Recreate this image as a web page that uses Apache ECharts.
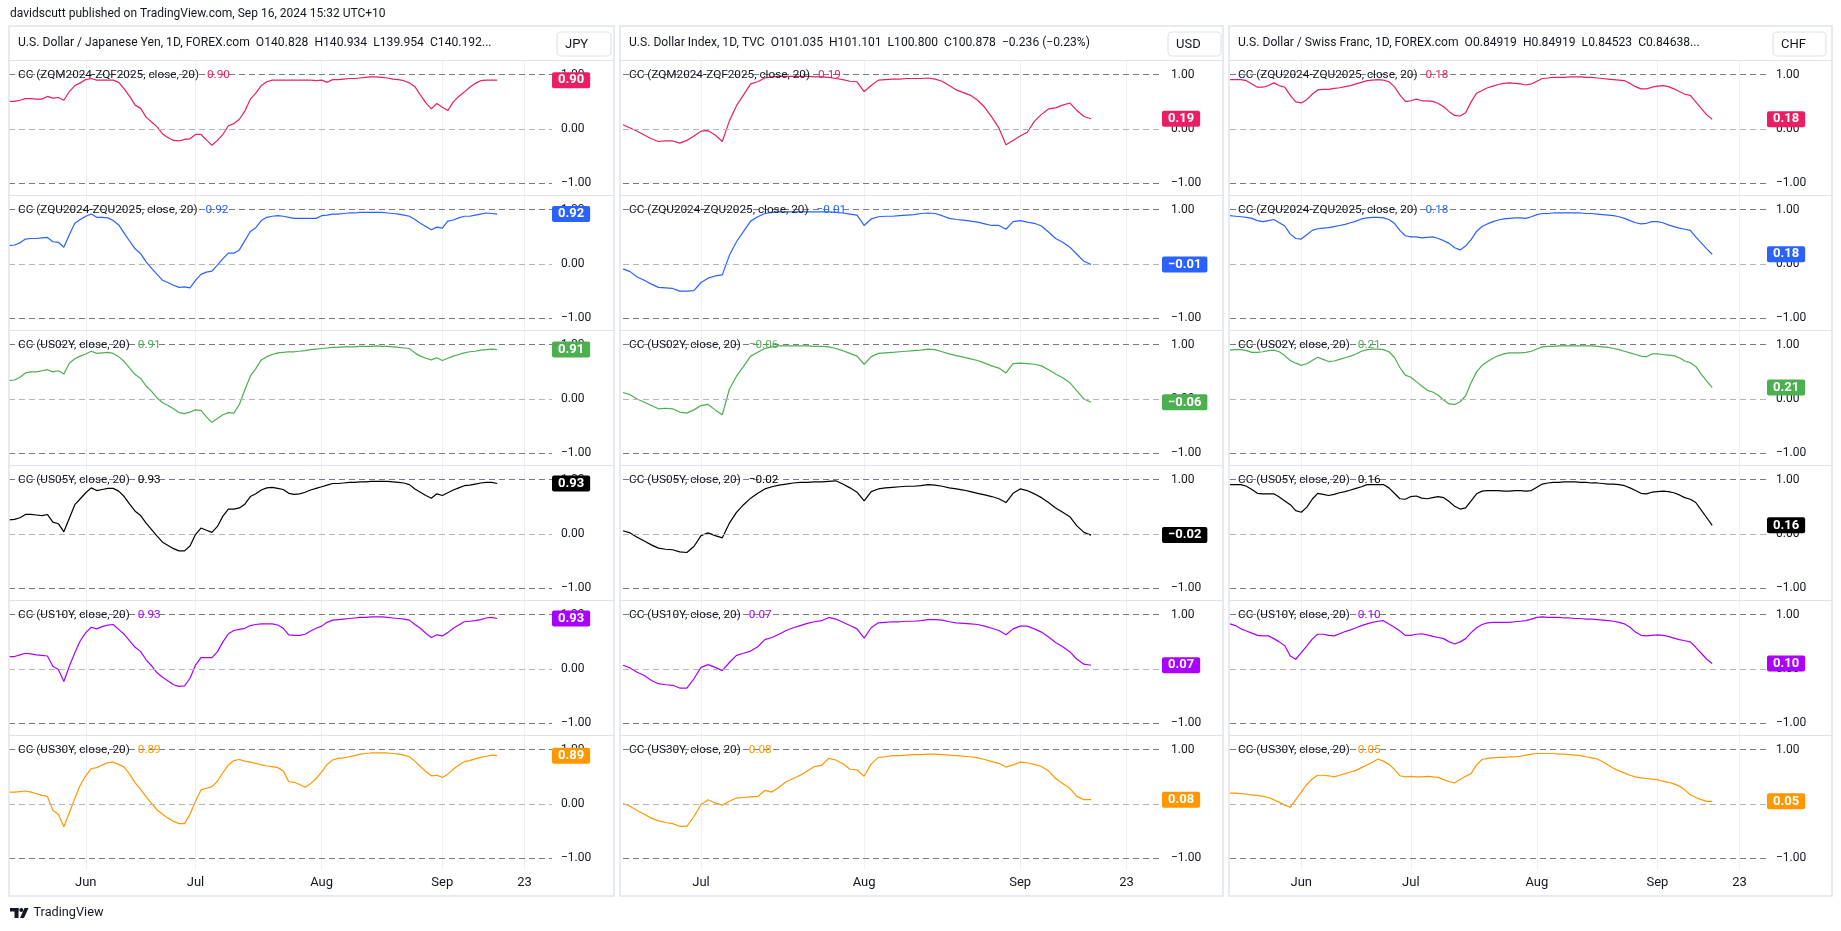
<!DOCTYPE html>
<html><head><meta charset="utf-8">
<script src="https://cdn.jsdelivr.net/npm/echarts@6/dist/echarts.min.js"></script>
<style>html,body{margin:0;padding:0;background:#fff;}#c{width:1841px;height:931px;}</style>
</head><body><div id="c"></div>
<script>
// ---------------- DATA ----------------
function weekdays(a, b) {
  const out = []; const d = new Date(a + 'T00:00:00Z'); const e = new Date(b + 'T00:00:00Z');
  while (d <= e) { const w = d.getUTCDay(); if (w !== 0 && w !== 6) out.push(d.toISOString().slice(0, 10)); d.setUTCDate(d.getUTCDate() + 1); }
  return out;
}
const CAT_JPY = weekdays('2024-05-14', '2024-09-30');
const CAT_DXY = weekdays('2024-06-14', '2024-09-30');
const CAT_CHF = weekdays('2024-05-15', '2024-09-30');
const TICK_LABELS = {'2024-06-03': 'Jun', '2024-07-01': 'Jul', '2024-08-01': 'Aug', '2024-09-02': 'Sep', '2024-09-23': '23'};
const LEVELS = [1, 0, -1];

const JPY_ZQM = [0.51,0.51,0.53,0.56,0.56,0.55,0.55,0.60,0.57,0.58,0.53,0.69,0.80,0.85,0.91,0.93,0.90,0.90,0.90,0.90,0.86,0.74,0.60,0.44,0.38,0.22,0.13,0.04,-0.09,-0.16,-0.21,-0.22,-0.19,-0.18,-0.10,-0.10,-0.20,-0.30,-0.21,-0.10,0.06,0.10,0.18,0.33,0.55,0.66,0.80,0.87,0.90,0.90,0.90,0.90,0.90,0.90,0.90,0.90,0.89,0.90,0.86,0.91,0.91,0.92,0.93,0.93,0.94,0.95,0.96,0.96,0.95,0.94,0.92,0.91,0.89,0.85,0.78,0.63,0.48,0.37,0.47,0.40,0.34,0.50,0.60,0.68,0.77,0.84,0.89,0.90,0.90,0.90];
const JPY_ZQU = [0.34,0.35,0.39,0.46,0.47,0.47,0.48,0.49,0.41,0.40,0.31,0.54,0.75,0.82,0.88,0.92,0.86,0.86,0.85,0.80,0.72,0.57,0.42,0.28,0.19,0.04,-0.08,-0.19,-0.30,-0.34,-0.39,-0.43,-0.42,-0.44,-0.30,-0.19,-0.15,-0.13,-0.02,0.10,0.20,0.20,0.26,0.43,0.60,0.67,0.80,0.86,0.88,0.89,0.88,0.86,0.84,0.84,0.84,0.84,0.84,0.89,0.90,0.92,0.92,0.93,0.94,0.94,0.95,0.95,0.95,0.95,0.95,0.94,0.93,0.92,0.90,0.88,0.82,0.75,0.69,0.63,0.68,0.66,0.79,0.81,0.85,0.88,0.88,0.90,0.92,0.94,0.93,0.92];
const JPY_US02Y = [0.34,0.35,0.40,0.48,0.50,0.50,0.52,0.54,0.50,0.52,0.46,0.66,0.74,0.79,0.83,0.88,0.84,0.85,0.86,0.84,0.78,0.69,0.57,0.45,0.38,0.24,0.14,0.02,-0.07,-0.12,-0.18,-0.25,-0.27,-0.24,-0.20,-0.21,-0.33,-0.43,-0.36,-0.29,-0.25,-0.26,-0.10,0.17,0.42,0.56,0.72,0.78,0.82,0.85,0.86,0.87,0.87,0.88,0.89,0.91,0.92,0.93,0.94,0.95,0.95,0.96,0.96,0.96,0.97,0.97,0.97,0.98,0.97,0.97,0.96,0.95,0.94,0.93,0.85,0.79,0.75,0.72,0.76,0.71,0.75,0.79,0.82,0.85,0.87,0.88,0.90,0.91,0.92,0.91];
const JPY_US05Y = [0.26,0.27,0.30,0.36,0.36,0.35,0.34,0.36,0.22,0.19,0.04,0.29,0.54,0.65,0.76,0.85,0.80,0.82,0.84,0.84,0.79,0.69,0.55,0.42,0.34,0.20,0.08,-0.04,-0.15,-0.21,-0.27,-0.31,-0.31,-0.22,-0.01,0.11,0.07,0.03,0.14,0.33,0.46,0.46,0.48,0.55,0.69,0.74,0.81,0.85,0.86,0.84,0.82,0.75,0.73,0.74,0.77,0.81,0.84,0.87,0.90,0.93,0.93,0.94,0.95,0.95,0.96,0.96,0.97,0.97,0.97,0.97,0.96,0.95,0.94,0.91,0.83,0.77,0.71,0.66,0.74,0.71,0.76,0.81,0.85,0.89,0.90,0.92,0.94,0.95,0.95,0.93];
const JPY_US10Y = [0.23,0.23,0.26,0.29,0.28,0.26,0.25,0.24,0.05,-0.01,-0.23,0.05,0.30,0.52,0.67,0.77,0.74,0.78,0.81,0.82,0.73,0.64,0.52,0.40,0.32,0.17,0.06,-0.07,-0.15,-0.22,-0.29,-0.32,-0.31,-0.17,0.07,0.21,0.21,0.21,0.32,0.50,0.65,0.71,0.73,0.75,0.80,0.82,0.83,0.83,0.83,0.81,0.75,0.63,0.62,0.62,0.64,0.70,0.75,0.79,0.86,0.90,0.91,0.92,0.93,0.94,0.95,0.95,0.96,0.96,0.96,0.95,0.94,0.93,0.92,0.90,0.82,0.75,0.66,0.58,0.63,0.61,0.67,0.75,0.81,0.87,0.88,0.89,0.91,0.94,0.95,0.93];
const JPY_US30Y = [0.22,0.22,0.23,0.24,0.22,0.19,0.16,0.14,-0.12,-0.19,-0.42,-0.16,0.10,0.35,0.52,0.65,0.67,0.72,0.76,0.77,0.73,0.68,0.55,0.39,0.27,0.13,0.01,-0.11,-0.19,-0.26,-0.32,-0.36,-0.36,-0.19,0.05,0.26,0.29,0.32,0.42,0.58,0.72,0.80,0.82,0.79,0.77,0.75,0.72,0.70,0.69,0.67,0.61,0.41,0.40,0.36,0.31,0.38,0.47,0.59,0.73,0.81,0.84,0.85,0.87,0.89,0.92,0.93,0.94,0.94,0.94,0.94,0.93,0.92,0.90,0.87,0.79,0.69,0.60,0.52,0.53,0.49,0.55,0.64,0.72,0.78,0.80,0.83,0.86,0.88,0.90,0.89];

const DXY_ZQM = [0.08,0.02,-0.04,-0.11,-0.18,-0.23,-0.22,-0.22,-0.26,-0.21,-0.13,-0.04,-0.03,-0.11,-0.23,0.15,0.43,0.63,0.83,0.87,0.94,0.96,0.97,0.97,0.97,0.97,0.97,0.96,0.96,0.95,0.93,0.91,0.88,0.87,0.69,0.80,0.90,0.91,0.92,0.92,0.93,0.93,0.93,0.94,0.92,0.88,0.80,0.72,0.67,0.62,0.53,0.40,0.22,0.02,-0.29,-0.21,-0.13,-0.06,0.14,0.27,0.37,0.39,0.44,0.48,0.34,0.23,0.19];
const DXY_ZQU = [-0.09,-0.14,-0.24,-0.30,-0.37,-0.43,-0.44,-0.45,-0.50,-0.50,-0.49,-0.34,-0.26,-0.22,-0.20,0.16,0.41,0.60,0.79,0.87,0.93,0.95,0.96,0.96,0.96,0.96,0.96,0.96,0.96,0.96,0.95,0.94,0.92,0.90,0.71,0.83,0.87,0.88,0.88,0.89,0.90,0.91,0.93,0.94,0.93,0.89,0.84,0.82,0.81,0.79,0.77,0.74,0.71,0.71,0.64,0.78,0.80,0.77,0.75,0.70,0.59,0.47,0.40,0.31,0.18,0.05,-0.01];
const DXY_US02Y = [0.12,0.08,0.00,-0.06,-0.12,-0.18,-0.17,-0.18,-0.24,-0.26,-0.20,-0.12,-0.10,-0.20,-0.29,0.18,0.42,0.60,0.79,0.86,0.93,0.96,0.98,0.98,0.98,0.98,0.98,0.97,0.97,0.96,0.93,0.89,0.84,0.79,0.64,0.78,0.84,0.85,0.86,0.87,0.88,0.89,0.90,0.92,0.91,0.87,0.83,0.80,0.77,0.74,0.71,0.66,0.61,0.57,0.48,0.65,0.66,0.65,0.64,0.61,0.54,0.46,0.39,0.30,0.15,0.00,-0.06];
const DXY_US05Y = [0.06,0.02,-0.06,-0.13,-0.20,-0.26,-0.28,-0.29,-0.33,-0.34,-0.23,-0.03,0.02,-0.03,-0.07,0.20,0.40,0.54,0.66,0.75,0.83,0.87,0.90,0.92,0.94,0.95,0.95,0.96,0.96,0.97,0.98,0.92,0.85,0.77,0.61,0.78,0.83,0.85,0.86,0.87,0.88,0.88,0.89,0.91,0.90,0.88,0.85,0.83,0.81,0.78,0.75,0.72,0.69,0.65,0.58,0.75,0.83,0.80,0.74,0.67,0.58,0.48,0.40,0.32,0.15,0.03,-0.02];
const DXY_US10Y = [0.07,0.02,-0.06,-0.12,-0.21,-0.27,-0.29,-0.30,-0.35,-0.35,-0.18,0.03,0.08,0.03,-0.03,0.12,0.25,0.29,0.33,0.41,0.54,0.58,0.64,0.71,0.76,0.80,0.84,0.87,0.89,0.95,0.92,0.86,0.80,0.74,0.57,0.76,0.85,0.86,0.87,0.87,0.88,0.88,0.89,0.91,0.91,0.90,0.87,0.85,0.84,0.83,0.82,0.79,0.75,0.71,0.63,0.74,0.79,0.79,0.74,0.68,0.59,0.49,0.41,0.32,0.18,0.09,0.07];
const DXY_US30Y = [0.01,-0.04,-0.12,-0.19,-0.26,-0.31,-0.34,-0.36,-0.41,-0.41,-0.23,-0.01,0.08,0.02,-0.02,0.05,0.11,0.12,0.13,0.14,0.25,0.22,0.31,0.41,0.47,0.53,0.61,0.69,0.71,0.84,0.81,0.74,0.64,0.63,0.51,0.74,0.86,0.87,0.89,0.89,0.90,0.91,0.91,0.92,0.92,0.91,0.90,0.89,0.88,0.87,0.85,0.82,0.78,0.75,0.68,0.72,0.77,0.76,0.73,0.69,0.61,0.47,0.38,0.29,0.14,0.08,0.08];

const CHF_ZQU_A = [0.91,0.91,0.91,0.89,0.83,0.77,0.77,0.80,0.85,0.80,0.77,0.62,0.50,0.48,0.54,0.64,0.72,0.73,0.73,0.75,0.76,0.78,0.80,0.83,0.86,0.89,0.90,0.91,0.90,0.87,0.78,0.63,0.51,0.52,0.55,0.52,0.52,0.51,0.47,0.41,0.32,0.25,0.24,0.30,0.50,0.66,0.71,0.76,0.79,0.82,0.84,0.85,0.84,0.83,0.81,0.83,0.88,0.93,0.94,0.95,0.95,0.95,0.96,0.96,0.96,0.95,0.95,0.94,0.93,0.92,0.91,0.90,0.89,0.84,0.78,0.74,0.74,0.77,0.79,0.80,0.78,0.74,0.69,0.64,0.62,0.50,0.38,0.26,0.18];
const CHF_ZQU_B = [0.89,0.88,0.87,0.86,0.84,0.80,0.78,0.80,0.82,0.76,0.70,0.55,0.47,0.46,0.54,0.62,0.65,0.66,0.67,0.69,0.71,0.73,0.76,0.79,0.83,0.85,0.86,0.86,0.85,0.82,0.75,0.62,0.52,0.50,0.50,0.48,0.49,0.50,0.47,0.43,0.38,0.30,0.26,0.33,0.45,0.60,0.69,0.74,0.78,0.81,0.83,0.84,0.85,0.85,0.84,0.87,0.91,0.93,0.93,0.94,0.94,0.94,0.94,0.94,0.94,0.93,0.93,0.92,0.91,0.90,0.89,0.87,0.84,0.80,0.76,0.74,0.75,0.78,0.78,0.76,0.72,0.69,0.66,0.64,0.62,0.50,0.39,0.28,0.18];
const CHF_US02Y = [0.90,0.91,0.91,0.89,0.86,0.86,0.87,0.89,0.90,0.87,0.80,0.71,0.66,0.62,0.65,0.71,0.77,0.73,0.69,0.70,0.73,0.76,0.79,0.83,0.88,0.91,0.92,0.92,0.91,0.87,0.77,0.58,0.44,0.40,0.32,0.24,0.16,0.13,0.07,-0.02,-0.09,-0.10,-0.05,0.06,0.30,0.50,0.62,0.69,0.75,0.80,0.83,0.85,0.85,0.85,0.86,0.88,0.92,0.96,0.97,0.97,0.98,0.98,0.98,0.98,0.98,0.98,0.98,0.97,0.96,0.95,0.93,0.91,0.88,0.85,0.82,0.79,0.78,0.83,0.83,0.82,0.81,0.80,0.76,0.70,0.67,0.60,0.46,0.33,0.21];
const CHF_US05Y = [0.91,0.91,0.91,0.88,0.82,0.75,0.74,0.74,0.74,0.68,0.61,0.54,0.43,0.40,0.49,0.64,0.75,0.73,0.71,0.73,0.76,0.78,0.81,0.84,0.87,0.91,0.91,0.91,0.91,0.85,0.75,0.65,0.64,0.69,0.70,0.66,0.65,0.67,0.69,0.67,0.60,0.51,0.46,0.48,0.61,0.74,0.79,0.80,0.80,0.80,0.79,0.79,0.80,0.80,0.79,0.80,0.86,0.92,0.94,0.95,0.95,0.96,0.96,0.96,0.95,0.95,0.94,0.94,0.93,0.92,0.92,0.91,0.89,0.85,0.80,0.75,0.74,0.77,0.78,0.79,0.78,0.76,0.72,0.67,0.64,0.58,0.44,0.30,0.16];
const CHF_US10Y = [0.83,0.80,0.74,0.70,0.66,0.62,0.61,0.61,0.56,0.50,0.43,0.24,0.18,0.30,0.42,0.55,0.64,0.64,0.62,0.61,0.65,0.69,0.72,0.76,0.80,0.83,0.86,0.88,0.89,0.83,0.77,0.70,0.62,0.62,0.64,0.65,0.63,0.60,0.58,0.56,0.50,0.46,0.50,0.56,0.67,0.76,0.82,0.85,0.86,0.86,0.86,0.86,0.87,0.88,0.89,0.92,0.95,0.96,0.95,0.95,0.95,0.94,0.94,0.93,0.93,0.92,0.92,0.91,0.90,0.89,0.88,0.86,0.83,0.77,0.68,0.62,0.61,0.62,0.63,0.62,0.60,0.57,0.54,0.52,0.50,0.40,0.29,0.18,0.10];
const CHF_US30Y = [0.20,0.20,0.19,0.18,0.17,0.16,0.14,0.12,0.08,0.03,-0.02,-0.06,0.08,0.22,0.36,0.46,0.53,0.53,0.52,0.50,0.53,0.56,0.59,0.62,0.67,0.72,0.77,0.83,0.79,0.73,0.64,0.52,0.50,0.51,0.50,0.50,0.51,0.50,0.49,0.45,0.41,0.39,0.45,0.51,0.56,0.72,0.82,0.84,0.85,0.86,0.86,0.87,0.87,0.88,0.90,0.92,0.93,0.93,0.93,0.93,0.92,0.92,0.91,0.90,0.89,0.87,0.85,0.83,0.78,0.72,0.66,0.61,0.57,0.53,0.50,0.48,0.47,0.46,0.45,0.42,0.40,0.37,0.33,0.26,0.17,0.12,0.08,0.05,0.05];

const NAMES_A = ['CC (ZQM2024-ZQF2025, close, 20)', 'CC (ZQU2024-ZQU2025, close, 20)', 'CC (US02Y, close, 20)', 'CC (US05Y, close, 20)', 'CC (US10Y, close, 20)', 'CC (US30Y, close, 20)'];
const NAMES_CHF = ['CC (ZQU2024-ZQU2025, close, 20)', 'CC (ZQU2024-ZQU2025, close, 20)', 'CC (US02Y, close, 20)', 'CC (US05Y, close, 20)', 'CC (US10Y, close, 20)', 'CC (US30Y, close, 20)'];
const HEADERS = [
  'U.S. Dollar / Japanese Yen, 1D, FOREX.com  O140.828  H140.934  L139.954  C140.192...',
  'U.S. Dollar Index, 1D, TVC  O101.035  H101.101  L100.800  C100.878  \u22120.236 (\u22120.23%)',
  'U.S. Dollar / Swiss Franc, 1D, FOREX.com  O0.84919  H0.84919  L0.84523  C0.84638...'
];
const CURRENCIES = ['JPY', 'USD', 'CHF'];
const TOP_LINE = 'davidscutt published on TradingView.com, Sep 16, 2024 15:32 UTC+10';

const PANELS = [
  {cats: CAT_JPY, series: [JPY_ZQM, JPY_ZQU, JPY_US02Y, JPY_US05Y, JPY_US10Y, JPY_US30Y], names: NAMES_A},
  {cats: CAT_DXY, series: [DXY_ZQM, DXY_ZQU, DXY_US02Y, DXY_US05Y, DXY_US10Y, DXY_US30Y], names: NAMES_A},
  {cats: CAT_CHF, series: [CHF_ZQU_A, CHF_ZQU_B, CHF_US02Y, CHF_US05Y, CHF_US10Y, CHF_US30Y], names: NAMES_CHF}
];

// ---------------- LAYOUT / STYLE ----------------
const FONT = 'Roboto, "Noto Sans", sans-serif';
const TXT = '#131722';
const COLORS = ['#e91e63', '#2962ff', '#4caf50', '#000000', '#aa00ff', '#ff9800'];
const BOX = [
  {x0: 9, x1: 614, gx0: 9, gx1: 552, headerW: 474, cur: [557, 32, 54, 24]},
  {x0: 620, x1: 1223, gx0: 623, gx1: 1162, headerW: 461, cur: [1168, 32, 53, 24]},
  {x0: 1229, x1: 1832, gx0: 1230, gx1: 1767, headerW: 462, cur: [1773, 32, 53, 24]}
];
const PANEL_TOP = 26, PANE_TOP = 60, PANE_H = 135, PANEL_BOTTOM = 896;
const Y_MIN = -1.215, Y_MAX = 1.271;

const mctx = document.createElement('canvas').getContext('2d');
function textW(s, font) { mctx.font = font; return mctx.measureText(s).width; }
function fit(s, target, weight) { return 12 * target / textW(s, (weight || 'normal') + ' 12px ' + FONT); }
function fmt(v) { return (v < 0 ? '\u2212' : '') + Math.abs(v).toFixed(2); }
function lvlLabel(v) { return v === 1 ? '1.00' : v === 0 ? '0.00' : '\u22121.00'; }

const grids = [], xAxes = [], yAxes = [], series = [], graphics = [];
const legendSize = fit(NAMES_A[0], 181);

PANELS.forEach((p, pi) => {
  const b = BOX[pi];
  graphics.push({type: 'rect', z: 50, silent: true, shape: {x: b.x0, y: PANEL_TOP, width: b.x1 - b.x0, height: PANEL_BOTTOM - PANEL_TOP}, style: {fill: 'rgba(0,0,0,0)', stroke: '#e0e3eb', lineWidth: 1.5}});
  graphics.push({type: 'line', z: 50, silent: true, shape: {x1: b.x0, y1: PANE_TOP + 0.5, x2: b.x1, y2: PANE_TOP + 0.5}, style: {stroke: '#e0e3eb', lineWidth: 1}});
  const hs = fit(HEADERS[pi], b.headerW);
  graphics.push({type: 'text', z: 60, silent: true, x: b.x0 + 9, y: 43, style: {text: HEADERS[pi], fill: TXT, font: hs.toFixed(2) + 'px ' + FONT, align: 'left', verticalAlign: 'middle'}});
  const c = b.cur;
  graphics.push({type: 'rect', z: 55, silent: true, shape: {x: c[0], y: c[1], width: c[2], height: c[3], r: 4}, style: {fill: '#fff', stroke: '#e0e3eb', lineWidth: 1.2}});
  graphics.push({type: 'text', z: 60, silent: true, x: c[0] + 8, y: c[1] + c[3] / 2 + 0.5, style: {text: CURRENCIES[pi], fill: TXT, font: '13px ' + FONT, align: 'left', verticalAlign: 'middle'}});

  p.series.forEach((data, k) => {
    const gi = pi * 6 + k;
    const top = PANE_TOP + k * PANE_H;
    if (k > 0) graphics.push({type: 'line', z: 50, silent: true, shape: {x1: b.x0, y1: top + 0.5, x2: b.x1, y2: top + 0.5}, style: {stroke: '#e0e3eb', lineWidth: 1}});
    grids.push({left: b.gx0, top: top, width: b.gx1 - b.gx0, height: PANE_H, containLabel: false, outerBoundsMode: 'none'});
    const isTick = (idx, val) => TICK_LABELS[val] !== undefined;
    xAxes.push({
      type: 'category', gridIndex: gi, data: p.cats, boundaryGap: false,
      axisLine: {show: false}, axisTick: {show: false},
      axisLabel: {show: k === 5, interval: isTick, formatter: v => TICK_LABELS[v] || '', margin: 6, color: TXT, fontSize: 13, fontFamily: FONT},
      splitLine: {show: true, interval: isTick, lineStyle: {color: '#eef0f4', width: 1}}
    });
    yAxes.push({type: 'value', gridIndex: gi, min: Y_MIN, max: Y_MAX, show: false});
    const color = COLORS[k];
    const last = data[data.length - 1];
    const mlData = LEVELS.map(v => ({
      yAxis: v,
      lineStyle: {color: v === 0 ? '#b2b5be' : '#787b86', type: [6, 4], width: 1},
      label: {show: true, position: 'end', distance: 9, formatter: lvlLabel(v), color: TXT, fontSize: 12, fontFamily: FONT}
    }));
    series.push({
      type: 'line', xAxisIndex: gi, yAxisIndex: gi, data: data, showSymbol: false, symbol: 'none',
      lineStyle: {width: 1.2, color: color}, itemStyle: {color: color}, animation: false, silent: true,
      markLine: {silent: true, symbol: ['none', 'none'], animation: false, data: mlData}
    });
    // last value tag on the price scale (separate series, drawn on top)
    series.push({
      type: 'line', xAxisIndex: gi, yAxisIndex: gi, data: [], showSymbol: false, symbol: 'none', silent: true, animation: false, z: 5,
      markLine: {silent: true, symbol: ['none', 'none'], animation: false, data: [{
        yAxis: last,
        lineStyle: {color: 'rgba(0,0,0,0)', width: 1, opacity: 1},
        label: {show: true, position: 'end', distance: 0, formatter: fmt(last), color: '#ffffff', backgroundColor: color, fontWeight: 'bold', fontSize: 13, fontFamily: FONT, padding: [2, 6, 1, 6], borderRadius: 2, opacity: 1}
      }]}
    });
    const lx = b.x0 + 9, ly = top + 15.5;
    const nameFont = legendSize.toFixed(2) + 'px ' + FONT;
    graphics.push({type: 'text', z: 60, silent: true, x: lx, y: ly, style: {text: p.names[k], fill: TXT, font: nameFont, align: 'left', verticalAlign: 'middle'}});
    graphics.push({type: 'text', z: 60, silent: true, x: lx + textW(p.names[k], nameFont) + 8, y: ly, style: {text: fmt(last), fill: color, font: nameFont, align: 'left', verticalAlign: 'middle'}});
  });
});

graphics.push({type: 'text', z: 60, silent: true, x: 10, y: 14, style: {text: TOP_LINE, fill: TXT, font: fit(TOP_LINE, 376).toFixed(2) + 'px ' + FONT, align: 'left', verticalAlign: 'middle'}});
graphics.push({type: 'rect', z: 60, silent: true, shape: {x: 10, y: 908, width: 8.5, height: 3.5}, style: {fill: TXT}});
graphics.push({type: 'rect', z: 60, silent: true, shape: {x: 14.5, y: 908, width: 4, height: 10}, style: {fill: TXT}});
graphics.push({type: 'circle', z: 60, silent: true, shape: {cx: 21.3, cy: 910, r: 2}, style: {fill: TXT}});
graphics.push({type: 'polygon', z: 60, silent: true, shape: {points: [[20, 918], [24, 918], [28.5, 908], [24.5, 908]]}, style: {fill: TXT}});
graphics.push({type: 'text', z: 60, silent: true, x: 33.5, y: 913, style: {text: 'TradingView', fill: TXT, font: fit('TradingView', 70).toFixed(2) + 'px ' + FONT, align: 'left', verticalAlign: 'middle'}});

const chart = echarts.init(document.getElementById('c'), null, {renderer: 'canvas', width: 1841, height: 931});
chart.setOption({
  backgroundColor: '#ffffff',
  animation: false,
  grid: grids, xAxis: xAxes, yAxis: yAxes, series: series,
  graphic: {elements: graphics}
});
</script></body></html>
